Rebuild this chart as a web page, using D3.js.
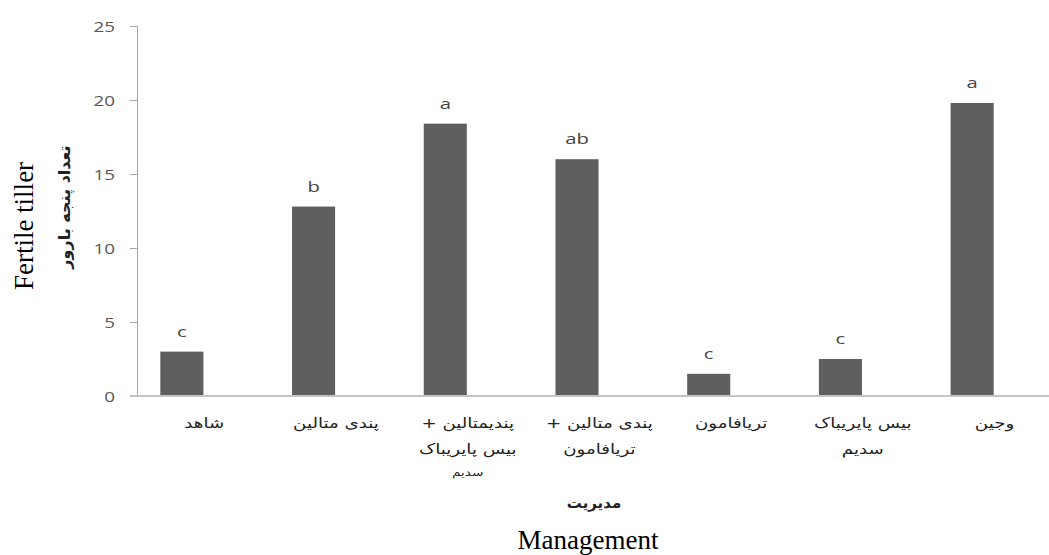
<!DOCTYPE html>
<html>
<head>
<meta charset="utf-8">
<script src="https://cdn.jsdelivr.net/npm/d3@7/dist/d3.min.js"></script>
<style>
  html, body { margin: 0; padding: 0; background: #fff; }
  svg { display: block; }
</style>
</head>
<body>
<svg id="chart" width="1049" height="555"></svg>
<script>
// Treatments (each entry holds the lines of its axis label)
const categories = [
  ["شاهد"],
  ["پندی متالین"],
  ["پندیمتالین +", "بیس پایریباک", "سدیم"],
  ["پندی متالین +", "تریافامون"],
  ["تریافامون"],
  ["بیس پایریباک", "سدیم"],
  ["وجین"]
];
// Mean number of fertile tillers per treatment
const values = [3.0, 12.8, 18.4, 16.0, 1.5, 2.5, 19.8];
// Mean-separation letters
const groups = ["c", "b", "a", "ab", "c", "c", "a"];
const yTicks = [0, 5, 10, 15, 20, 25];

const svg = d3.select("#chart");
const ids = categories.map((_, i) => i);

const x = d3.scaleBand().domain(ids).range([116, 1038]).padding(0);
const y = d3.scaleLinear().domain([0, 25]).range([396, 26]);
const barW = x.bandwidth() * 0.327;
const labelShift = x.step() * 0.17;
const stretch = 1.35;

// y axis
const yAxis = svg.append("g").attr("transform", "translate(137,0)")
  .call(d3.axisLeft(y).tickValues(yTicks).tickSize(7).tickPadding(0).tickFormat(d3.format("d")));
yAxis.select(".domain").attr("stroke", "#a6a6a6");
yAxis.selectAll(".tick line").attr("stroke", "#a6a6a6");
yAxis.selectAll(".tick text").remove();
yAxis.selectAll(".tick").append("g")
  .attr("transform", "translate(-22,5) scale(" + stretch + ",1)")
  .append("text")
  .attr("text-anchor", "end")
  .attr("font-family", "Open Sans, sans-serif")
  .attr("font-size", 14)
  .attr("fill", "#595959")
  .text(d => d);

// bars
svg.append("g").selectAll("rect").data(ids).join("rect")
  .attr("x", i => x(i) + x.bandwidth() / 2 - barW / 2)
  .attr("width", barW)
  .attr("y", i => y(values[i]))
  .attr("height", i => y(0) - y(values[i]))
  .attr("fill", "#5f5f5f");

// category baseline
svg.append("line")
  .attr("x1", 130).attr("x2", 1049)
  .attr("y1", y(0)).attr("y2", y(0))
  .attr("stroke", "#c4c4c4").attr("stroke-width", 2);

// letters above bars
svg.append("g").selectAll("g").data(ids).join("g")
  .attr("transform", i => "translate(" + (x(i) + x.bandwidth() / 2) + "," + (y(values[i]) - 15) + ") scale(" + stretch + ",1)")
  .append("text")
  .attr("text-anchor", "middle")
  .attr("font-family", "Open Sans, sans-serif")
  .attr("font-size", 15)
  .attr("fill", "#444")
  .text(i => groups[i]);

// category labels
const lineY = [428, 454, 476];
const lineSize = [14, 14, 10.5];
const catG = svg.append("g").selectAll("g").data(ids).join("g")
  .attr("transform", i => "translate(" + (x(i) + x.bandwidth() / 2 + labelShift) + ",0) scale(1.3,1)");
catG.each(function (i) {
  d3.select(this).selectAll("text").data(categories[i]).join("text")
    .attr("y", (d, k) => lineY[k])
    .attr("text-anchor", "middle")
    .attr("direction", "rtl")
    .attr("font-family", "DejaVu Sans, sans-serif")
    .attr("font-size", (d, k) => lineSize[k])
    .attr("fill", "#222")
    .text(d => d);
});

// axis titles
svg.append("text")
  .attr("transform", "translate(33,226) rotate(-90)")
  .attr("text-anchor", "middle")
  .attr("font-family", "Liberation Serif, serif")
  .attr("font-size", 27)
  .attr("fill", "#000")
  .text("Fertile tiller");

svg.append("text")
  .attr("transform", "translate(70,207) rotate(-90)")
  .attr("text-anchor", "middle")
  .attr("direction", "rtl")
  .attr("font-family", "DejaVu Sans, sans-serif")
  .attr("font-weight", "bold")
  .attr("font-size", 16)
  .attr("fill", "#222")
  .text("تعداد پنجه بارور");

svg.append("text")
  .attr("x", 594).attr("y", 508)
  .attr("text-anchor", "middle")
  .attr("direction", "rtl")
  .attr("font-family", "DejaVu Sans, sans-serif")
  .attr("font-weight", "bold")
  .attr("font-size", 15)
  .attr("fill", "#222")
  .text("مدیریت");

svg.append("text")
  .attr("x", 588).attr("y", 549)
  .attr("text-anchor", "middle")
  .attr("font-family", "Liberation Serif, serif")
  .attr("font-size", 27)
  .attr("fill", "#000")
  .text("Management");
</script>
</body>
</html>
